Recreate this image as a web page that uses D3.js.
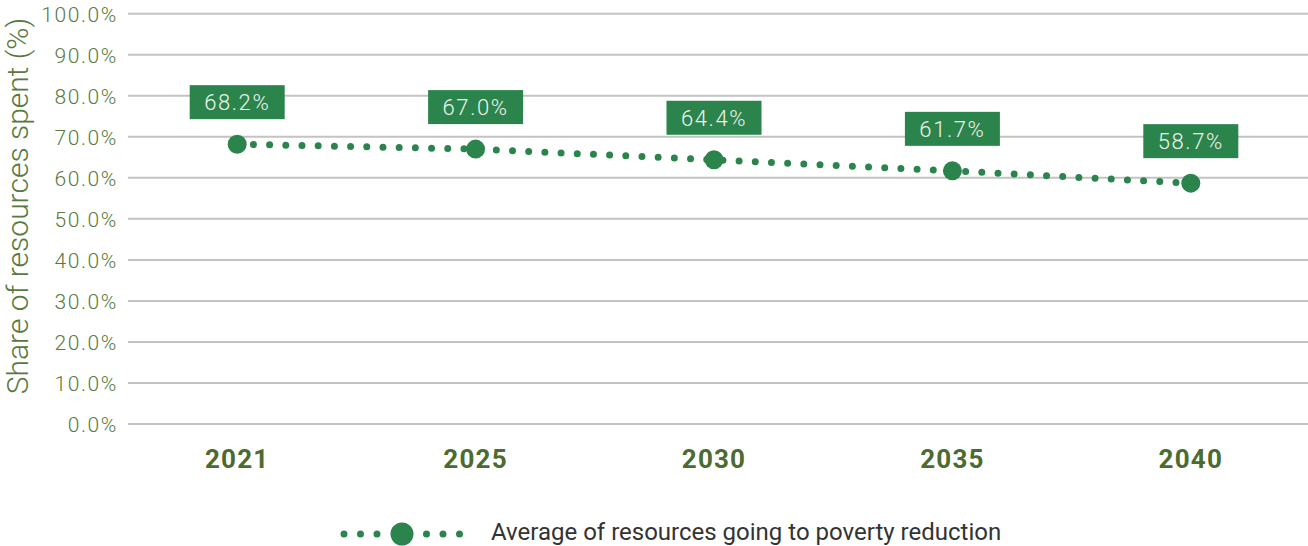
<!DOCTYPE html>
<html>
<head>
<meta charset="utf-8">
<script src="https://cdn.jsdelivr.net/npm/d3@7"></script>
<style>
  html, body { margin: 0; padding: 0; background: #fff; }
  svg { display: block; }
</style>
</head>
<body>
<svg id="chart" width="1308" height="546"></svg>
<script>
// Share of resources going to poverty reduction, by year
const years = ["2021", "2025", "2030", "2035", "2040"];
const shares = [68.2, 67.0, 64.4, 61.7, 58.7];
const yTicks = [0, 10, 20, 30, 40, 50, 60, 70, 80, 90, 100];
const seriesName = "Average of resources going to poverty reduction";
const yTitle = "Share of resources spent (%)";

const green = "#2c844d";
const olive = "#587a3e";
const darkOlive = "#4b6b2f";

const svg = d3.select("#chart");

const x = d3.scaleBand().domain(years).range([118, 1310]);
const y = d3.scaleLinear().domain([0, 100]).range([424, 13.7]);
const cx = d => x(d) + x.bandwidth() / 2;

// horizontal gridlines
svg.append("g")
  .selectAll("line")
  .data(yTicks)
  .join("line")
  .attr("x1", 128).attr("x2", 1308)
  .attr("y1", d => y(d)).attr("y2", d => y(d))
  .attr("stroke", "#c3c3c3")
  .attr("stroke-width", 2);

// y axis tick labels
const yAxis = svg.append("g")
  .attr("transform", "translate(118,0)")
  .call(d3.axisLeft(y).tickValues(yTicks).tickSize(0).tickPadding(0)
    .tickFormat(d => d.toFixed(1) + "%"));
yAxis.select(".domain").remove();
yAxis.selectAll("text")
  .attr("fill", olive)
  .attr("font-family", "Roboto, sans-serif")
  .attr("font-weight", 300)
  .attr("font-size", 21)
  .attr("letter-spacing", 1.6)
  .attr("dy", "0.38em");

// y axis title
svg.append("text")
  .attr("transform", "translate(28,206) rotate(-90)")
  .attr("text-anchor", "middle")
  .attr("fill", olive)
  .attr("font-family", "Roboto, sans-serif")
  .attr("font-weight", 300)
  .attr("font-size", 30)
  .text(yTitle);

// x axis labels
const xAxis = svg.append("g")
  .attr("transform", "translate(0,450)")
  .call(d3.axisBottom(x).tickSize(0).tickPadding(0));
xAxis.select(".domain").remove();
xAxis.selectAll("text")
  .attr("fill", darkOlive)
  .attr("font-family", "Roboto, sans-serif")
  .attr("font-weight", 700)
  .attr("font-size", 26)
  .attr("letter-spacing", 1.2)
  .attr("dy", "0.71em");

// dotted series line
const line = d3.line().x((d, i) => cx(years[i])).y(d => y(d));
svg.append("path")
  .datum(shares)
  .attr("d", line)
  .attr("fill", "none")
  .attr("stroke", green)
  .attr("stroke-width", 7)
  .attr("stroke-linecap", "round")
  .attr("stroke-dasharray", "0 16.2");

// markers
svg.append("g")
  .selectAll("circle")
  .data(shares)
  .join("circle")
  .attr("cx", (d, i) => cx(years[i]))
  .attr("cy", d => y(d))
  .attr("r", 9.5)
  .attr("fill", green);

// value labels
const boxW = 95, boxH = 34, gap = 25;
const labels = svg.append("g")
  .selectAll("g")
  .data(shares)
  .join("g")
  .attr("transform", (d, i) => `translate(${cx(years[i])},${y(d) - gap - boxH})`);
labels.append("rect")
  .attr("x", -boxW / 2).attr("y", 0)
  .attr("width", boxW).attr("height", boxH)
  .attr("fill", green);
labels.append("text")
  .attr("x", 0).attr("y", boxH / 2)
  .attr("dy", "0.36em")
  .attr("text-anchor", "middle")
  .attr("fill", "#eef4ee")
  .attr("font-family", "Roboto, sans-serif")
  .attr("font-weight", 300)
  .attr("font-size", 22)
  .attr("letter-spacing", 1.6)
  .text(d => d.toFixed(1) + "%");

// legend
const legend = svg.append("g").attr("transform", "translate(0,534)");
legend.append("line")
  .attr("x1", 344).attr("x2", 464)
  .attr("y1", 0).attr("y2", 0)
  .attr("stroke", green)
  .attr("stroke-width", 7)
  .attr("stroke-linecap", "round")
  .attr("stroke-dasharray", "0 16.5");
legend.append("rect")
  .attr("x", 386).attr("y", -8).attr("width", 8).attr("height", 16)
  .attr("fill", "#fff");
legend.append("rect")
  .attr("x", 410).attr("y", -8).attr("width", 8).attr("height", 16)
  .attr("fill", "#fff");
legend.append("circle")
  .attr("cx", 402).attr("cy", 0).attr("r", 11.5)
  .attr("fill", green);
legend.append("text")
  .attr("x", 491).attr("y", 6)
  .attr("fill", "#333")
  .attr("font-family", "Roboto, sans-serif")
  .attr("font-weight", 400)
  .attr("font-size", 24)
  .text(seriesName);
</script>
</body>
</html>
